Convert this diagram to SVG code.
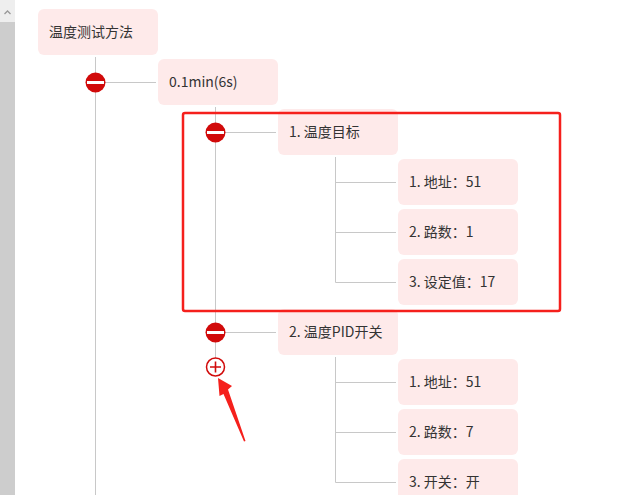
<svg xmlns="http://www.w3.org/2000/svg" width="638" height="495" viewBox="0 0 638 495">
<style>
.n{fill:#feeaea}
.t{font-family:"Microsoft YaHei","Noto Sans CJK SC","Noto Sans",sans-serif;font-size:14px;fill:#333}
.l{stroke:#c8c8c8;stroke-width:1;fill:none}
.m{fill:#d10a0a}
.b{fill:#fff}
</style>
<rect x="0" y="0" width="638" height="495" fill="#fff"/>
<g id="scrollbar">
<rect x="0" y="0" width="15" height="495" fill="#cdcdcd"/>
<rect x="0" y="0" width="15" height="22" fill="#eeeeee"/>
<path d="M4.5 14 L7.5 11 L10.5 14" stroke="#999" stroke-width="1.3" fill="none"/>
</g>
<g id="connectors">
<path class="l" d="M95.5 57 V495 M105 82.5 H156"/>
<path class="l" d="M215.5 107 V358 M225 132.5 H276 M225 332.5 H276"/>
<path class="l" d="M335.5 157 V282.5 H396 M335.5 182.5 H396 M335.5 232.5 H396"/>
<path class="l" d="M335.5 357 V482.5 H396 M335.5 382.5 H396 M335.5 432.5 H396"/>
</g>
<g id="root"><rect class="n" x="38" y="9" width="120" height="46" rx="6"/><text class="t" x="49" y="37">温度测试方法</text></g>
<g id="n1"><rect class="n" x="158" y="59" width="120" height="46" rx="6"/><text class="t" x="169" y="87">0.1min(6s)</text></g>
<g id="n11"><rect class="n" x="278" y="109" width="120" height="46" rx="6"/><text class="t" x="289" y="137">1. 温度目标</text></g>
<g id="n111"><rect class="n" x="398" y="159" width="120" height="46" rx="6"/><text class="t" x="409" y="187">1. 地址：51</text></g>
<g id="n112"><rect class="n" x="398" y="209" width="120" height="46" rx="6"/><text class="t" x="409" y="237">2. 路数：1</text></g>
<g id="n113"><rect class="n" x="398" y="259" width="120" height="46" rx="6"/><text class="t" x="409" y="287">3. 设定值：17</text></g>
<g id="n12"><rect class="n" x="278" y="309" width="120" height="46" rx="6"/><text class="t" x="289" y="337">2. 温度PID开关</text></g>
<g id="n121"><rect class="n" x="398" y="359" width="120" height="46" rx="6"/><text class="t" x="409" y="387">1. 地址：51</text></g>
<g id="n122"><rect class="n" x="398" y="409" width="120" height="46" rx="6"/><text class="t" x="409" y="437">2. 路数：7</text></g>
<g id="n123"><rect class="n" x="398" y="459" width="120" height="46" rx="6"/><text class="t" x="409" y="487">3. 开关：开</text></g>
<g id="toggles">
<circle class="m" cx="95.5" cy="82.5" r="10"/><rect class="b" x="87" y="81" width="17" height="3"/>
<circle class="m" cx="215.5" cy="132.5" r="10"/><rect class="b" x="207" y="131" width="17" height="3"/>
<circle class="m" cx="215.5" cy="332.5" r="10"/><rect class="b" x="207" y="331" width="17" height="3"/>
<circle cx="215.5" cy="367" r="9" fill="#fff" stroke="#d10a0a" stroke-width="1.5"/>
<path d="M210 367 H221 M215.5 361.5 V372.5" stroke="#d10a0a" stroke-width="1.6"/>
</g>
<g id="highlight">
<rect x="183" y="113" width="377" height="198" rx="2" fill="none" stroke="#f5201c" stroke-width="2.5"/>
<path d="M218 378 L232 386 L228 389.5 L245.5 441 L244 441.5 L223.5 394 L219.5 396 Z" fill="#f5201c"/>
</g>
</svg>
